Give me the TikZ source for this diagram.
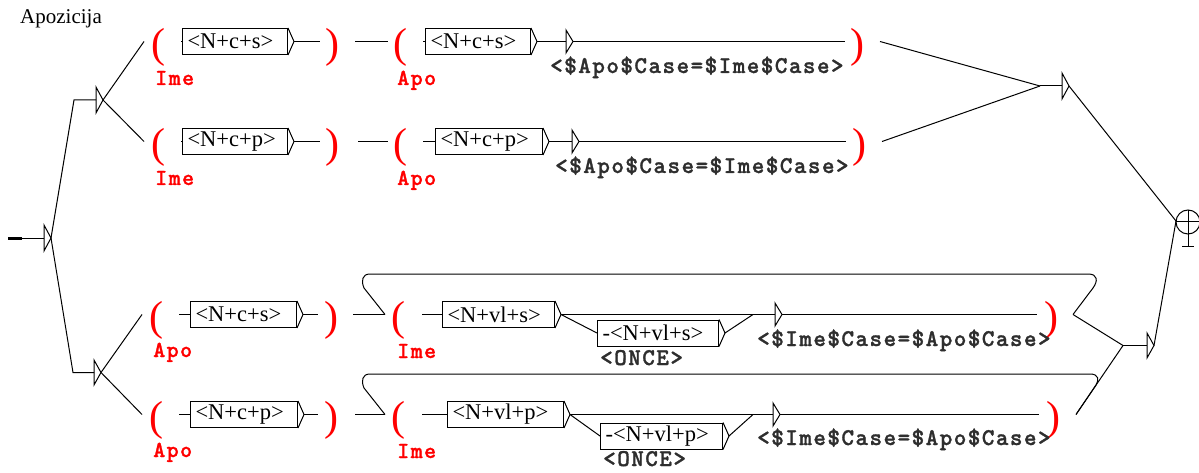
\documentclass[tikz,border=0pt]{standalone}
\usepackage{fontspec}
\setmainfont{Liberation Serif}
\newfontfamily\cour{lmmonolt10-bold.otf}[LetterSpace=6,FakeBold=1.2]
\tikzset{
  conn/.style={line width=1pt},
  ubox/.style={draw, line width=1pt, rectangle, anchor=west, inner xsep=5pt, inner ysep=0pt,
    minimum height=26pt, align=left, font=\fontsize{22.5}{24}\selectfont},
  paren/.style={inner sep=0pt, text=red, font=\fontsize{42}{44}\selectfont},
  varlbl/.style={inner sep=0pt, anchor=base west, text=red, font=\cour\fontsize{23}{25}\selectfont},
  outlbl/.style={inner sep=0pt, anchor=base west, text=black!82, font=\cour\fontsize{24}{26}\selectfont},
}
% output arrow of a box
\newcommand\boxout[1]{%
  \draw[conn] (#1.north east) -- ([xshift=6pt]#1.east) -- (#1.south east);
  \coordinate (#1-o) at ([xshift=6pt]#1.east);}
% empty (epsilon) node: name, x, y, half height
\newcommand\unitexE[4]{%
  \draw[conn] (#2,#3-#4) -- (#2,#3+#4) -- (#2+7,#3) -- cycle;
  \coordinate (#1-i) at (#2,#3);
  \coordinate (#1-o) at (#2+7,#3);}
% variable bracket: name, glyph, glyph x, glyph y, input x, output x, row y
\newcommand\uparen[7]{%
  \node[paren] (#1) at (#3,#4) {#2};
  \coordinate (#1-i) at (#5,#7);
  \coordinate (#1-o) at (#6,#7);}
\begin{document}
\begin{tikzpicture}[x=1pt,y=-1pt]
\fill[white] (0,0) rectangle (1199,473);
\useasboundingbox (0,0) rectangle (1199,473);

\node[anchor=base west, inner sep=0pt, font=\fontsize{21}{23}\selectfont] (title) at (20,24) {Apozicija};

% ---------- initial state and split nodes
\coordinate (start) at (8,238);
\coordinate (start2) at (22,238);
\draw[line width=3pt] (start) -- (start2);
\unitexE{e0}{44}{238}{13}
\draw[conn] (start2) -- (e0-i);
\unitexE{s1}{96}{100}{13}
\unitexE{s2}{94}{372.5}{12.5}
\draw[conn] (e0-o) -- (74,100) -- (s1-i);
\draw[conn] (e0-o) -- (73,372.5) -- (s2-i);

% ---------- row 1
\uparen{a1}{(}{158.5}{47}{144}{181}{41.5}
\node[ubox,text width=95pt] (b1) at (182,41.5) {<N+c+s>}; \boxout{b1}
\uparen{a2}{)}{332.5}{47}{320}{355}{41.5}
\uparen{a3}{(}{400}{47}{388}{423}{41.5}
\node[ubox,text width=95pt] (b3) at (425,41.5) {<N+c+s>}; \boxout{b3}
\unitexE{e1}{566}{41.5}{11.5}
\uparen{a4}{)}{857.5}{47}{845}{880}{41.5}
\node[varlbl] (l1a) at (155,85) {Ime};
\node[varlbl] (l1b) at (397,85) {Apo};
\node[outlbl] (o1) at (550,73) {<\$Apo\$Case=\$Ime\$Case>};
\draw[conn] (a1-o) -- (b1.west);
\draw[conn] (b1-o) -- (a2-i);
\draw[conn] (a2-o) -- (a3-i);
\draw[conn] (a3-o) -- (b3.west);
\draw[conn] (b3-o) -- (e1-i);
\draw[conn] (e1-o) -- (a4-i);

% ---------- row 2
\uparen{c1}{(}{158.5}{147}{144}{181}{141.5}
\node[ubox,text width=95pt] (b2) at (182,141.5) {<N+c+p>}; \boxout{b2}
\uparen{c2}{)}{332.5}{147}{320}{358}{141.5}
\uparen{c3}{(}{400}{147}{388}{423}{141.5}
\node[ubox,text width=97pt] (b4) at (435,141.5) {<N+c+p>}; \boxout{b4}
\unitexE{e2}{572}{141.5}{11.5}
\uparen{c4}{)}{859.5}{147}{846}{882}{141.5}
\node[varlbl] (l2a) at (155,185) {Ime};
\node[varlbl] (l2b) at (397,185) {Apo};
\node[outlbl] (o2) at (555,173) {<\$Apo\$Case=\$Ime\$Case>};
\draw[conn] (c1-o) -- (b2.west);
\draw[conn] (b2-o) -- (c2-i);
\draw[conn] (c2-o) -- (c3-i);
\draw[conn] (c3-o) -- (b4.west);
\draw[conn] (b4-o) -- (e2-i);
\draw[conn] (e2-o) -- (c4-i);

\draw[conn] (s1-o) -- (a1-i);
\draw[conn] (s1-o) -- (c1-i);

% ---------- row 3
\uparen{d1}{(}{156.5}{320}{142}{179}{314.5}
\node[ubox,text width=96pt] (b5) at (190,314.5) {<N+c+s>}; \boxout{b5}
\uparen{d2}{)}{331}{320}{318}{353}{314.5}
\uparen{d3}{(}{398.5}{320}{385}{422}{314.5}
\node[ubox,text width=102pt] (b7) at (442,314.5) {<N+vl+s>}; \boxout{b7}
\node[ubox,text width=111pt] (b8) at (597,333) {-<N+vl+s>}; \boxout{b8}
\coordinate (m3) at (753,314.5);
\unitexE{e3}{775}{314.5}{11.5}
\uparen{d4}{)}{1051}{320}{1037}{1073}{314.5}
\node[varlbl] (l3a) at (153,357) {Apo};
\node[varlbl] (l3b) at (397,358) {Ime};
\node[outlbl] (once3) at (600,365) {<ONCE>};
\node[outlbl] (o3) at (757,346) {<\$Ime\$Case=\$Apo\$Case>};
\draw[conn] (d1-o) -- (b5.west);
\draw[conn] (b5-o) -- (d2-i);
\draw[conn] (d2-o) -- (d3-i);
\draw[conn] (d3-o) -- (b7.west);
\draw[conn] (b7-o) -- (e3-i);
\draw[conn] (b7-o) -- (b8.west);
\draw[conn] (b8-o) -- (m3);
\draw[conn] (e3-o) -- (d4-i);
\draw[conn] (d4-o) -- (1093,288) .. controls (1098,281) and (1098,274) .. (1088,274)
   -- (370,274) .. controls (362,274) and (361,281) .. (364,288) -- (d3-i);

% ---------- row 4
\uparen{f1}{(}{156.5}{420}{142}{179}{414.5}
\node[ubox,text width=97pt] (b6) at (190,414.5) {<N+c+p>}; \boxout{b6}
\uparen{f2}{)}{331.5}{420}{318}{355}{414.5}
\uparen{f3}{(}{398.5}{420}{385}{422}{414.5}
\node[ubox,text width=106pt] (b9) at (447,414.5) {<N+vl+p>}; \boxout{b9}
\node[ubox,text width=112pt] (b10) at (600,436) {-<N+vl+p>}; \boxout{b10}
\coordinate (m4) at (753,414.5);
\unitexE{e4}{773}{414.5}{11.5}
\uparen{f4}{)}{1053}{420}{1039}{1076}{414.5}
\node[varlbl] (l4a) at (153,457) {Apo};
\node[varlbl] (l4b) at (397,458) {Ime};
\node[outlbl] (once4) at (603,466) {<ONCE>};
\node[outlbl] (o4) at (757,445) {<\$Ime\$Case=\$Apo\$Case>};
\draw[conn] (f1-o) -- (b6.west);
\draw[conn] (b6-o) -- (f2-i);
\draw[conn] (f2-o) -- (f3-i);
\draw[conn] (f3-o) -- (b9.west);
\draw[conn] (b9-o) -- (e4-i);
\draw[conn] (b9-o) -- (b10.west);
\draw[conn] (b10-o) -- (m4);
\draw[conn] (e4-o) -- (f4-i);
\draw[conn] (f4-o) -- (1096,385) .. controls (1099,380) and (1099,374) .. (1090,374)
   -- (370,374) .. controls (362,374) and (361,381) .. (364,388) -- (f3-i);

\draw[conn] (s2-o) -- (d1-i);
\draw[conn] (s2-o) -- (f1-i);

% ---------- right side
\coordinate (j1) at (1040,86);
\coordinate (j2) at (1123,345.5);
\unitexE{e5}{1062}{86}{13}
\unitexE{e6}{1147}{345.5}{12.5}
\draw[conn] (a4-o) -- (j1);
\draw[conn] (c4-o) -- (j1);
\draw[conn] (j1) -- (e5-i);
\draw[conn] (d4-o) -- (j2);
\draw[conn] (f4-o) -- (j2);
\draw[conn] (j2) -- (e6-i);

% final state
\coordinate (fin) at (1176,221);
\draw[conn] (1188,222) circle (12pt);
\draw[conn] (1176,222) -- (1200,222);
\draw[conn] (1188,210) -- (1188,246);
\draw[conn] (1182,246) -- (1194,246);
\draw[conn] (e5-o) -- (fin);
\draw[conn] (e6-o) -- (fin);
\end{tikzpicture}
\end{document}
